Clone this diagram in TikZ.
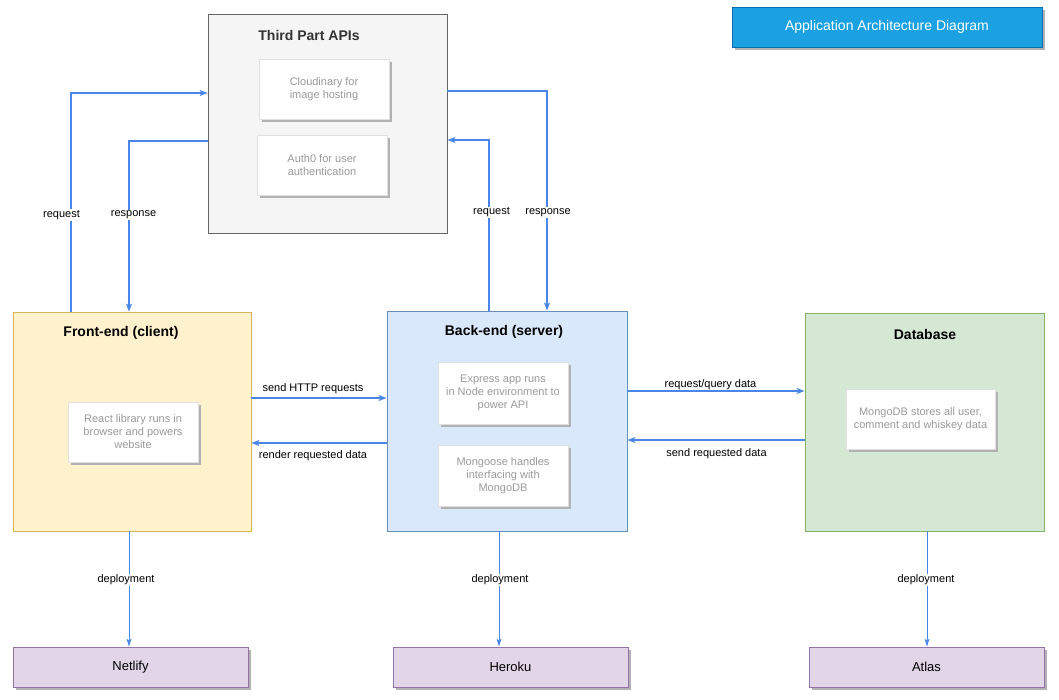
\documentclass[tikz,border=0pt]{standalone}
\usepackage{fontspec}
\setmainfont{Liberation Sans}
\usetikzlibrary{arrows.meta,shadows,calc}
\definecolor{arrc}{HTML}{4A86E8}
\definecolor{gtxt}{HTML}{9A9A9A}
\definecolor{apifill}{HTML}{F5F5F5}
\definecolor{apidraw}{HTML}{666666}
\definecolor{fefill}{HTML}{FFF2CC}
\definecolor{fedraw}{HTML}{D6B656}
\definecolor{befill}{HTML}{DAE8FC}
\definecolor{bedraw}{HTML}{6C8EBF}
\definecolor{dbfill}{HTML}{D5E8D4}
\definecolor{dbdraw}{HTML}{82B366}
\definecolor{depfill}{HTML}{E1D5E7}
\definecolor{depdraw}{HTML}{9673A6}
\definecolor{ttlfill}{HTML}{1BA1E2}
\definecolor{ttldraw}{HTML}{006EAF}
\tikzset{
  bigbox/.style={draw, line width=0.8pt, minimum width=#1, inner sep=0pt},
  inbox/.style={draw=black!12, fill=white, line width=0.6pt, minimum width=130pt, minimum height=60pt,
    align=center, text=gtxt, font=\fontsize{11}{13}\selectfont,
    drop shadow={shadow xshift=3pt, shadow yshift=-3pt, fill=black!30, opacity=1}},
  ttl/.style={font=\bfseries\fontsize{14}{16}\selectfont},
  depbox/.style={draw=depdraw, fill=depfill, line width=0.8pt, minimum width=235pt, minimum height=40pt,
    font=\fontsize{13}{15}\selectfont,
    drop shadow={shadow xshift=3pt, shadow yshift=-3pt, fill=black!30, opacity=1}},
  arr/.style={draw=arrc, line width=1.6pt, -{Stealth[length=8pt,width=6pt,inset=2pt]}},
  darr/.style={draw=arrc, line width=1pt, -{Stealth[length=8pt,width=5pt,inset=2pt]}},
  lbl/.style={fill=white, inner sep=1pt, font=\fontsize{11}{13}\selectfont},
  hlbl/.style={inner sep=1pt, font=\fontsize{11}{13}\selectfont},
}
\begin{document}
\begin{tikzpicture}[x=1pt,y=-1pt]
\useasboundingbox (0,0) rectangle (1059,699);
% main boxes
\node[bigbox=239pt, minimum height=219pt, draw=apidraw, fill=apifill] (third) at (327.5,123.5) {};
\node[bigbox=238pt, minimum height=219pt, draw=fedraw, fill=fefill] (front) at (132,421.5) {};
\node[bigbox=240pt, minimum height=220pt, draw=bedraw, fill=befill] (back) at (507,421) {};
\node[bigbox=239pt, minimum height=218pt, draw=dbdraw, fill=dbfill] (db) at (924.5,422) {};
% titles
\node[ttl, text=black!80] (thirdT) at (309,35) {Third Part APIs};
\node[ttl] (frontT) at (121,333) {Front-end (client)};
\node[ttl] (backT) at (504,332) {Back-end (server)};
\node[ttl] (dbT) at (925,334) {Database};
% inner boxes
\node[inbox] (cloud) at (324,89) {Cloudinary for\\image hosting};
\node[inbox] (auth) at (322,165) {Auth0 for user\\authentication};
\node[inbox] (react) at (133,432) {React library runs in\\browser and powers\\website};
\node[inbox, minimum height=62pt] (express) at (503,393) {Express app runs\\in Node environment to\\power API};
\node[inbox, minimum height=61pt] (mongoose) at (503,475.5) {Mongoose handles\\interfacing with\\MongoDB};
\node[inbox, minimum width=149pt, inner xsep=1pt] (mongo) at (920.5,419) {MongoDB stores all user,\\comment and whiskey data};
% deployment boxes
\node[depbox] (netlify) at (130.5,667) {Netlify};
\node[depbox] (heroku) at (510.5,667) {Heroku};
\node[depbox] (atlas) at (926.5,667) {Atlas};
% title box
\node[draw=ttldraw, fill=ttlfill, line width=0.8pt, minimum width=310pt, minimum height=40pt,
  text=white, font=\fontsize{14}{16}\selectfont,
  drop shadow={shadow xshift=3pt, shadow yshift=-3pt, fill=black!30, opacity=1}] (title) at (887,27) {Application Architecture Diagram};
% connectors to third party
\draw[arr] ([xshift=-61pt]front.north) |- ([yshift=30.5pt]third.west);
\draw[arr] ([yshift=-17.5pt]third.west) -| ([xshift=-3pt]front.north);
\draw[arr] ([xshift=-18pt]back.north) |- ([yshift=-16.5pt]third.east);
\draw[arr] ([yshift=32.5pt]third.east) -| ([xshift=40pt]back.north);
% horizontal connectors
\coordinate (h1) at ([yshift=23.5pt]front.east);
\coordinate (h2) at ([yshift=-22pt]back.west);
\coordinate (h3) at ([yshift=30pt]back.east);
\coordinate (h4) at ([yshift=-18pt]db.west);
\draw[arr] (h1) -- (h1 -| back.west);
\draw[arr] (h2) -- (h2 -| front.east);
\draw[arr] (h3) -- (h3 -| db.west);
\draw[arr] (h4) -- (h4 -| back.east);
% deployment connectors
\coordinate (d1) at ([xshift=-3pt]front.south);
\coordinate (d2) at ([xshift=-8pt]back.south);
\coordinate (d3) at ([xshift=2.5pt]db.south);
\draw[darr] (d1) -- (d1 |- netlify.north);
\draw[darr] (d2) -- (d2 |- heroku.north);
\draw[darr] (d3) -- (d3 |- atlas.north);
% labels
\node[lbl] (l1) at (61.5,215) {request};
\node[lbl] (l2) at (133.5,215) {response};
\node[lbl] (l3) at (491.5,212.5) {request};
\node[lbl] (l4) at (548,212.5) {response};
\node[hlbl] (l5) at (313,389) {send HTTP requests};
\node[hlbl] (l6) at (313,456) {render requested data};
\node[hlbl] (l7) at (710.5,384.5) {request/query data};
\node[hlbl] (l8) at (716.5,454) {send requested data};
\node[lbl] (l9) at (126,580) {deployment};
\node[lbl] (l10) at (500,580) {deployment};
\node[lbl] (l11) at (926,580) {deployment};
\end{tikzpicture}
\end{document}
